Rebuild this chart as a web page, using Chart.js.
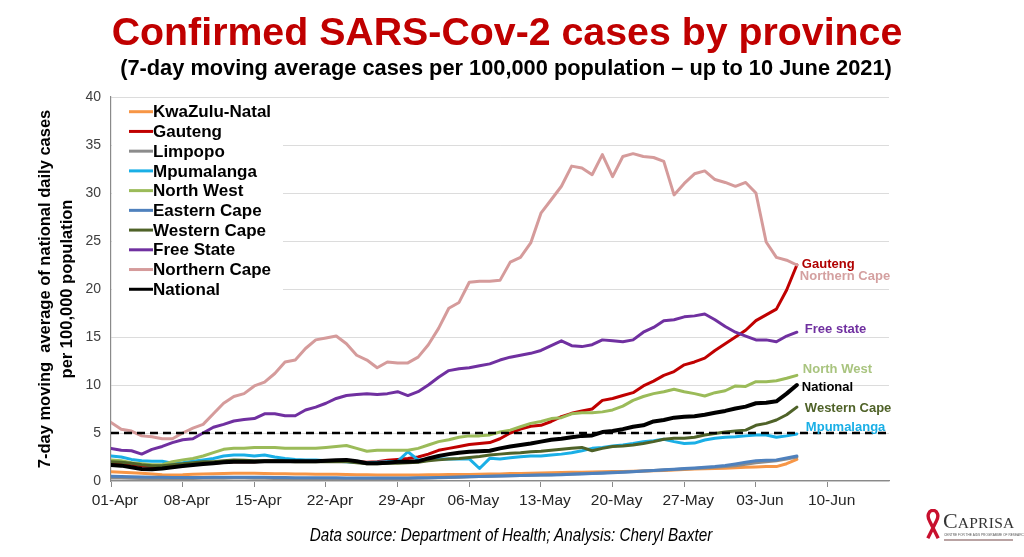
<!DOCTYPE html>
<html><head><meta charset="utf-8">
<script src="https://cdn.jsdelivr.net/npm/chart.js@4/dist/chart.umd.min.js"></script>
<style>
html,body{margin:0;padding:0;background:#fff;}
#wrap{position:relative;width:1024px;height:557px;overflow:hidden;background:#fff;}
#c{position:absolute;left:0;top:0;}
.t{position:absolute;left:0;width:1024px;text-align:center;white-space:nowrap;}
#title{top:8px;left:-5px;font:bold 39.3px 'Liberation Sans',Arial,sans-serif;line-height:46px;color:#C00000;}
#sub{top:55px;left:-6px;font:bold 21.8px 'Liberation Sans',Arial,sans-serif;line-height:26px;color:#000;}
#foot{top:524px;left:-1px;font:italic 18px 'Liberation Sans Narrow','Arial Narrow','Liberation Sans',sans-serif;line-height:22px;color:#000;transform:scaleX(0.85);transform-origin:512px 50%;}
#logo{position:absolute;left:922px;top:506px;width:100px;height:42px;}
#logo svg{position:absolute;left:2px;top:3px;}
#lname{position:absolute;left:21px;top:3px;font-family:'Liberation Serif','DejaVu Serif',serif;color:#333;white-space:nowrap;line-height:24px;}
#lname .big{font-size:22px;}
#lname .sm{font-size:15.5px;letter-spacing:0.3px;}
#lsub{position:absolute;left:22px;top:27px;font:3.2px 'Liberation Sans',Arial,sans-serif;color:#555;white-space:nowrap;}
#lline{position:absolute;left:22px;top:33px;width:69px;height:2px;background:#b9a3a3;}
</style></head><body>
<div id="wrap">
<canvas id="c" width="1024" height="557"></canvas>
<div class="t" id="title">Confirmed SARS-Cov-2 cases by province</div>
<div class="t" id="sub">(7-day moving average cases per 100,000 population – up to 10 June 2021)</div>
<div class="t" id="foot">Data source: Department of Health; Analysis: Cheryl Baxter</div>
<div id="logo">
  <svg width="18" height="32" viewBox="0 0 18 34"><path d="M5.5,13 C2,7 4.5,1.5 9,1.5 C13.5,1.5 16,7 12.5,13 M12.5,13 L3.5,31 M5.5,13 L14.5,31" fill="none" stroke="#C8102E" stroke-width="3.6" stroke-linecap="butt"/></svg>
  <div id="lname"><span class="big">C</span><span class="sm">APRISA</span></div>
  <div id="lsub">CENTRE FOR THE AIDS PROGRAMME OF RESEARCH IN SOUTH AFRICA</div>
  <div id="lline"></div>
</div>
</div>
<script>
// ---- Data (day index 0 = 01-Apr-2021) ----
const tickLabels = ['01-Apr','08-Apr','15-Apr','22-Apr','29-Apr','06-May','13-May','20-May','27-May','03-Jun','10-Jun'];
const seriesNames = ['KwaZulu-Natal','Gauteng','Limpopo','Mpumalanga','North West','Eastern Cape','Western Cape','Free State','Northern Cape','National'];
const threshold = 5;

const kwazuluNatal = [0.97,0.92,0.86,0.8,0.74,0.66,0.63,0.65,0.7,0.73,
  0.75,0.78,0.8,0.81,0.8,0.78,0.76,0.75,0.73,0.72,
  0.7,0.71,0.7,0.68,0.66,0.64,0.63,0.62,0.63,0.62,
  0.63,0.64,0.65,0.67,0.67,0.68,0.7,0.72,0.74,0.77,
  0.78,0.8,0.83,0.86,0.88,0.9,0.92,0.94,0.97,0.98,
  1.0,1.02,1.05,1.07,1.1,1.15,1.2,1.24,1.28,1.3,
  1.33,1.37,1.42,1.46,1.5,1.5,1.8,2.25];
const gauteng = [1.9,1.85,1.75,1.6,1.5,1.5,1.55,1.6,1.7,1.8,
  1.85,1.95,2.0,2.0,2.0,2.05,2.05,2.1,2.1,2.1,
  2.1,2.1,2.1,2.15,2.0,1.95,2.0,2.15,2.25,2.35,
  2.5,2.8,3.2,3.4,3.6,3.8,3.9,4.0,4.4,5.0,
  5.4,5.7,5.8,6.2,6.7,7.05,7.3,7.5,8.4,8.6,
  8.9,9.2,9.9,10.4,11.0,11.4,12.1,12.4,12.8,13.6,
  14.3,15.0,15.7,16.7,17.3,17.9,19.9,22.5];
const limpopo = [0.3,0.3,0.28,0.27,0.26,0.25,0.25,0.26,0.27,0.28,
  0.28,0.29,0.3,0.3,0.29,0.28,0.27,0.27,0.26,0.26,
  0.25,0.25,0.24,0.24,0.23,0.23,0.24,0.25,0.26,0.27,
  0.28,0.3,0.33,0.36,0.4,0.43,0.47,0.5,0.52,0.55,
  0.58,0.6,0.63,0.66,0.7,0.74,0.78,0.82,0.86,0.9,
  0.95,1.0,1.05,1.1,1.15,1.2,1.25,1.3,1.35,1.42,
  1.5,1.6,1.75,1.9,2.0,2.1,2.3,2.5];
const mpumalanga = [2.6,2.5,2.25,2.1,2.05,2.05,1.85,1.9,2.05,2.2,
  2.35,2.6,2.7,2.7,2.6,2.7,2.5,2.35,2.25,2.2,
  2.2,2.1,2.05,2.0,1.95,1.9,1.95,2.0,2.05,3.05,
  2.2,2.26,2.29,2.29,2.3,2.3,1.3,2.36,2.3,2.43,
  2.53,2.6,2.6,2.7,2.8,2.95,3.16,3.4,3.5,3.65,
  3.75,3.9,4.1,4.2,4.35,4.1,3.9,3.95,4.27,4.45,
  4.55,4.6,4.7,4.8,4.8,4.55,4.7,4.9];
const northWest = [2.2,2.1,1.9,1.8,1.7,1.7,2.0,2.2,2.35,2.6,
  2.95,3.3,3.4,3.4,3.5,3.5,3.5,3.4,3.4,3.4,
  3.4,3.5,3.6,3.7,3.4,3.1,3.2,3.2,3.2,3.2,
  3.4,3.75,4.1,4.3,4.55,4.7,4.7,4.8,5.1,5.3,
  5.65,6.0,6.2,6.5,6.6,7.0,7.1,7.1,7.2,7.4,
  7.8,8.4,8.8,9.1,9.3,9.55,9.3,9.1,8.85,9.2,
  9.4,9.9,9.85,10.35,10.35,10.45,10.7,11.0];
const easternCape = [0.5,0.48,0.45,0.42,0.4,0.38,0.37,0.36,0.36,0.37,
  0.38,0.38,0.4,0.4,0.39,0.38,0.37,0.36,0.35,0.35,
  0.34,0.33,0.33,0.32,0.32,0.31,0.3,0.3,0.31,0.32,
  0.33,0.35,0.37,0.39,0.42,0.45,0.48,0.5,0.52,0.55,
  0.57,0.6,0.62,0.63,0.65,0.7,0.74,0.78,0.82,0.87,
  0.92,0.97,1.03,1.1,1.17,1.23,1.3,1.36,1.43,1.5,
  1.62,1.78,1.95,2.1,2.15,2.2,2.4,2.6];
const westernCape = [2.0,1.95,1.85,1.7,1.6,1.6,1.7,1.8,1.9,2.0,
  2.0,2.1,2.2,2.15,2.1,2.1,2.1,2.05,2.0,2.0,
  2.0,2.0,2.0,2.0,1.9,1.8,1.8,1.85,1.85,1.9,
  1.95,2.1,2.2,2.3,2.35,2.45,2.55,2.7,2.8,2.9,
  2.95,3.05,3.1,3.2,3.3,3.4,3.5,3.15,3.4,3.6,
  3.65,3.75,3.9,4.1,4.35,4.45,4.45,4.55,4.8,4.95,
  5.1,5.2,5.3,5.8,6.0,6.35,6.9,7.7];
const freeState = [3.4,3.2,3.15,2.8,3.3,3.6,4.0,4.3,4.4,5.0,
  5.6,5.9,6.25,6.4,6.5,7.0,7.0,6.8,6.8,7.4,
  7.7,8.1,8.6,8.9,9.0,9.1,9.0,9.1,9.3,8.9,
  9.3,10.0,10.8,11.5,11.7,11.8,12.0,12.2,12.6,12.9,
  13.1,13.3,13.6,14.1,14.6,14.1,14.0,14.2,14.7,14.6,
  14.5,14.7,15.5,16.0,16.7,16.8,17.1,17.2,17.4,16.8,
  16.1,15.5,15.1,14.7,14.7,14.5,15.1,15.5];
const northernCape = [6.1,5.4,5.2,4.7,4.6,4.4,4.4,5.0,5.5,5.9,
  7.0,8.1,8.8,9.1,9.9,10.3,11.2,12.4,12.6,13.8,
  14.7,14.9,15.1,14.3,13.1,12.6,11.8,12.4,12.3,12.3,
  12.9,14.2,15.9,18.0,18.6,20.7,20.8,20.8,20.9,22.8,
  23.3,24.8,27.9,29.3,30.7,32.8,32.6,31.9,34.0,31.7,
  33.8,34.1,33.8,33.7,33.3,29.8,31.0,32.0,32.3,31.4,
  31.1,30.7,31.1,30.0,24.9,23.3,23.0,22.5];
const national = [1.67,1.6,1.43,1.25,1.22,1.3,1.43,1.56,1.67,1.77,
  1.85,1.95,2.0,2.0,2.0,2.05,2.05,2.05,2.05,2.05,
  2.05,2.1,2.15,2.2,2.05,1.85,1.85,1.9,2.0,2.0,
  2.05,2.35,2.6,2.8,2.95,3.05,3.1,3.15,3.4,3.6,
  3.75,3.9,4.1,4.3,4.4,4.55,4.7,4.75,5.1,5.2,
  5.4,5.65,5.8,6.2,6.35,6.6,6.7,6.75,6.9,7.1,
  7.3,7.55,7.75,8.1,8.15,8.3,9.1,10.0];
const seriesValues = [kwazuluNatal,gauteng,limpopo,mpumalanga,northWest,easternCape,westernCape,freeState,northernCape,national];
const endLabelTexts = {'Gauteng':'Gauteng','Northern Cape':'Northern Cape','Free State':'Free state','North West':'North West','National':'National','Western Cape':'Western Cape','Mpumalanga':'Mpumalanga'};

// ---- Styles ----
const lineColors = {'KwaZulu-Natal':'#F79646','Gauteng':'#C00000','Limpopo':'#8C8C8C','Mpumalanga':'#1AAFE6','North West':'#9BBB59','Eastern Cape':'#4F81BD','Western Cape':'#4F6228','Free State':'#7030A0','Northern Cape':'#D59B9B','National':'#000000'};
const lineWidths = {'National':4};
const labelColors = {'Gauteng':'#B00000','Northern Cape':'#D4A0A0','Free State':'#7030A0','North West':'#A9C47F','National':'#000000','Western Cape':'#4F6228','Mpumalanga':'#1AAFE6'};
const labelOffsets = {'Gauteng':[5,-1],'Northern Cape':[3,11],'Free State':[8,-3],'North West':[6,-6],'National':[5,2],'Western Cape':[8,1],'Mpumalanga':[9,-7]};
const FONT = "'Liberation Sans', Arial, sans-serif";

const xMax = 76;
const datasets = seriesNames.map((name, k) => ({
  label: name,
  data: seriesValues[k].map((v, i) => ({x: i, y: v})),
  borderColor: lineColors[name],
  backgroundColor: lineColors[name],
  borderWidth: lineWidths[name] || 3,
  pointRadius: 0,
  tension: 0,
  borderJoinStyle: 'round',
  borderCapStyle: 'round',
  order: 100 - k
}));
datasets.push({
  label: 'threshold', isRef: true,
  data: [{x: 0, y: threshold}, {x: xMax, y: threshold}],
  borderColor: '#000', borderWidth: 2.6, borderDash: [8, 5],
  pointRadius: 0, order: 0
});

const legendPlugin = {
  id: 'boxLegend',
  beforeDatasetsDraw(chart) {
    const {ctx, chartArea: a} = chart;
    ctx.save(); ctx.fillStyle = '#fff';
    ctx.fillRect(a.left + 1, a.top + 1, 171, 205);
    ctx.restore();
  },
  afterDatasetsDraw(chart) {
    const {ctx, chartArea: a} = chart;
    ctx.save();
    ctx.font = 'bold 17px ' + FONT;
    ctx.textBaseline = 'middle'; ctx.textAlign = 'left';
    let k = 0;
    chart.data.datasets.forEach(ds => {
      if (ds.isRef) return;
      const y = a.top + 14.7 + k * 19.73;
      ctx.strokeStyle = ds.borderColor; ctx.lineWidth = 3;
      ctx.beginPath(); ctx.moveTo(a.left + 18, y); ctx.lineTo(a.left + 42, y); ctx.stroke();
      ctx.fillStyle = '#000';
      ctx.fillText(ds.label, a.left + 42, y + 1);
      k++;
    });
    ctx.restore();
  }
};
const endLabelPlugin = {
  id: 'endLabels',
  afterDatasetsDraw(chart) {
    const {ctx} = chart;
    ctx.save();
    ctx.font = 'bold 13px ' + FONT;
    ctx.textBaseline = 'middle'; ctx.textAlign = 'left';
    Object.keys(endLabelTexts).forEach(name => {
      const idx = chart.data.datasets.findIndex(d => d.label === name);
      const meta = chart.getDatasetMeta(idx);
      const pt = meta.data[meta.data.length - 1];
      const off = labelOffsets[name];
      ctx.fillStyle = labelColors[name];
      ctx.fillText(endLabelTexts[name], pt.x + off[0], pt.y + off[1]);
    });
    ctx.restore();
  }
};

new Chart(document.getElementById('c'), {
  type: 'line',
  data: {datasets},
  plugins: [legendPlugin, endLabelPlugin],
  options: {
    responsive: false, animation: false, devicePixelRatio: 1,
    layout: {padding: {left: 0, top: 97, right: 135, bottom: 46}},
    plugins: {legend: {display: false}, tooltip: {enabled: false}, title: {display: false}},
    scales: {
      x: {
        type: 'linear', min: 0, max: xMax,
        afterBuildTicks: s => { s.ticks = tickLabels.map((t, k) => ({value: k * 7})); },
        afterFit: s => { s.height = 30; },
        ticks: {autoSkip: false, maxRotation: 0, padding: 4, labelOffset: 4, color: '#262626',
          font: {family: FONT, size: 15.5}, callback: (v, i) => tickLabels[i]},
        grid: {display: true, drawOnChartArea: false, drawTicks: true, tickLength: 6, color: '#8a8a8a'},
        border: {display: true, color: '#8a8a8a', width: 1.2}
      },
      y: {
        min: 0, max: 40,
        afterFit: s => { s.width = 111; },
        ticks: {stepSize: 5, padding: 10, color: '#404040', font: {family: FONT, size: 14}},
        grid: {color: '#dcdcdc', drawTicks: false, lineWidth: 1},
        border: {display: true, color: '#8a8a8a', width: 1.2},
        title: {display: true, text: ['7-day moving  average of national daily cases', 'per 100,000 population'],
          color: '#000', font: {family: FONT, size: 16.5, weight: 'bold', lineHeight: 1.35}, padding: {top: 34, bottom: 0}}
      }
    }
  }
});
</script>
</body></html>
